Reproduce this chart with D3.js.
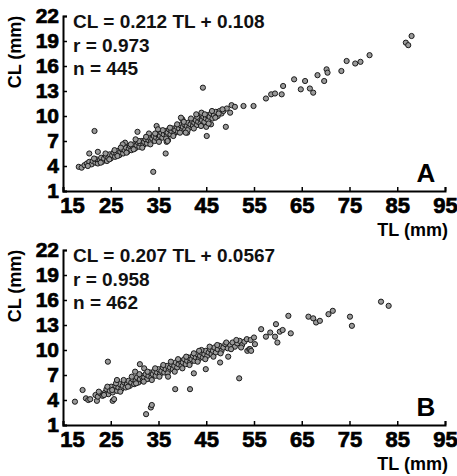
<!DOCTYPE html>
<html>
<head>
<meta charset="utf-8">
<script src="https://cdn.jsdelivr.net/npm/d3@7"></script>
<style>
  body { margin: 0; background: #fff; }
  text { font-family: "Liberation Sans", Arial, Helvetica, sans-serif; }
</style>
</head>
<body>
<svg width="457" height="476"></svg>
<script>
// TL, CL pairs (mm)
var pointsA = [
  [18.3,3.9],[18.9,3.8],[20.5,5.5],[21.6,8.2],[22.3,5.7],[28,6.8],[30.6,8.1],[33.9,3.3],[34.6,8.8],[36.5,5.5],[36.7,6.9],[45.1,7.6],
  [19.5,4.1],[20,4.3],[20.5,4.5],[21,4.2],[21.2,4.6],[21.8,4.4],[22,4.8],[22.3,4.3],[22.7,4.7],[23,5.0],[23.2,4.5],[23.6,4.9],
  [24,5.2],[24.2,4.6],[24.5,5.0],[24.8,5.4],[25,4.9],[25.3,5.3],[25.6,5.6],[25.9,5.1],[26.2,5.5],[26.5,5.8],[26.8,5.3],[27,5.7],
  [27.3,6.0],[27.6,5.5],[27.9,5.9],[28.2,6.2],[28.5,5.7],[28.8,6.1],[29,6.4],[29.3,5.9],[29.6,6.3],[29.9,6.6],[30.1,6.1],[30.4,6.5],
  [30.7,6.8],[31,6.3],[31.2,6.7],[31.5,7.0],[31.8,6.5],[32,6.9],[32.3,7.2],[32.6,6.7],[32.9,7.1],[33.1,7.4],[33.4,6.9],[33.7,7.3],
  [34,7.6],[34.2,7.0],[34.5,7.4],[34.8,7.8],[35,7.2],[35.3,7.6],[35.6,8.0],[35.8,7.4],[36.1,7.8],[36.4,8.2],[36.7,7.6],[36.9,8.0],
  [37.2,8.4],[37.5,7.8],[37.7,8.2],[38,8.5],[38.3,7.9],[38.5,8.3],[38.8,8.7],[39.1,8.1],[39.3,8.5],[39.6,8.9],[39.9,8.3],[40.1,8.7],
  [40.4,9.0],[40.6,8.4],[40.9,8.8],[41.2,9.2],[41.4,8.6],[41.7,9.0],[42,9.4],[42.2,8.8],[42.5,9.2],[42.8,9.5],[43,8.9],[43.3,9.3],
  [43.6,9.7],[43.8,9.1],[44.1,9.5],[44.4,9.9],[44.6,9.3],[44.9,9.7],[45.2,10.1],[45.4,9.5],[45.7,9.9],[46,10.3],[46.3,9.7],[46.6,10.1],
  [47,10.5],[47.4,10.0],[47.8,10.6],[48.2,10.3],[33,7.9],[40,9.6],[44,10.4],[41,8.0],[45,8.7],[46,9.0],[37,7.1],[27.5,6.6],
  [20.2,4.0],[21.5,4.9],[22.9,4.4],[23.9,5.5],[24.7,4.8],[25.8,5.9],[26.4,5.2],[27.1,6.2],[28.3,5.6],[29.2,6.6],[29.8,6.0],[30.9,7.0],
  [31.6,6.2],[32.4,7.5],[33.3,6.6],[34.3,7.9],[35.1,6.9],[35.9,8.3],[36.6,7.3],[37.4,8.6],[38.1,7.6],[38.9,9.0],[39.5,8.0],[40.3,9.3],
  [41.1,8.3],[41.8,9.7],[42.4,8.5],[43.1,9.9],[43.9,8.8],[44.7,10.2],[45.5,9.1],[46.2,10.6],[46.9,9.8],[47.6,10.3],[48.6,10.6],[49.3,10.9],
  [39.7,9.8],[42.9,10.2],[34.9,8.4],[30.2,7.2],[36.9,7.0],[40.7,8.0],
  [44.3,13.4],[48.4,10.8],[49.1,8.7],[50,10.4],[50.3,11.3],[51,11.1],[52.8,11.2],[54.9,11.2],[57.5,12.1],[58.6,12.6],[59.4,12.7],
  [60.8,12.6],[61.1,13.6],[63.4,14.4],[64.8,13.2],[65.7,14.2],[66.7,13.3],[67.4,12.8],[68.3,14.9],[69.7,14.2],[70.2,15.6],[70.4,15.2],
  [73.3,15.4],[74.4,16.6],[76.2,16.3],[77.3,16.5],[79.2,17.3],[86.8,18.8],[87.3,18.5],[88,19.6]
];
var pointsB = [
  [17.5,3.8],[19.1,5.2],[19.8,4.2],[20.3,4.0],[20.7,4.1],[22.1,3.9],[24.4,8.6],[25.4,3.9],[25.7,4.1],[31.1,8.3],[32,7.8],[32.4,2.3],
  [33.4,3.1],[33.6,3.4],[38.5,5.3],[41.6,5.3],[42.4,7.2],[44.9,7.7],[47.9,8.5],[49.6,9.2],[51.9,6.6],
  [21.8,4.6],[22.3,4.4],[22.8,4.8],[23.3,4.5],[23.8,4.9],[24.1,5.3],[24.5,4.7],[24.8,5.1],[25.1,5.6],[25.4,4.9],[25.7,5.3],[26,5.7],
  [26.3,5.1],[26.6,5.5],[26.9,5.9],[27.2,5.3],[27.5,5.7],[27.8,6.1],[28.1,5.5],[28.4,5.9],[28.7,6.3],[29,5.7],[29.3,6.1],[29.6,6.5],
  [29.9,5.9],[30.2,6.3],[30.5,6.7],[30.8,6.1],[31.1,6.5],[31.4,6.9],[31.7,6.3],[32,6.7],[32.3,7.1],[32.6,6.5],[32.9,6.9],[33.2,7.3],
  [33.5,6.7],[33.8,7.1],[34.1,7.5],[34.4,6.9],[34.7,7.3],[35,7.7],[35.3,7.1],[35.6,7.5],[35.9,7.9],[36.2,7.3],[36.5,7.7],[36.8,8.1],
  [37.1,7.5],[37.4,7.9],[37.7,8.3],[38,7.7],[38.3,8.1],[38.6,8.5],[38.9,7.9],[39.2,8.3],[39.5,8.7],[39.8,8.1],[40.1,8.5],[40.4,8.9],
  [40.7,8.3],[41,8.7],[41.3,9.1],[41.6,8.5],[41.9,8.9],[42.2,9.3],[42.5,8.7],[42.8,9.1],[43.1,9.5],[43.4,8.9],[43.7,9.3],[44,9.7],
  [44.3,9.1],[44.6,9.5],[44.9,9.9],[45.2,9.3],[45.5,9.7],[45.8,10.1],[46.1,9.5],[46.4,9.9],[46.7,10.3],[47,9.7],[47.4,10.1],[47.8,10.5],
  [48.2,9.9],[48.6,10.3],[49,10.7],[49.5,10.2],[50,10.6],[50.5,10.9],[51,10.4],[51.5,10.8],[52,11.1],[52.5,10.6],[53,11.0],[53.5,11.3],
  [22.5,5.0],[23.6,4.6],[24.3,5.6],[25.3,5.2],[26.1,6.0],[27.0,5.0],[27.7,6.4],[28.6,5.6],[29.4,6.8],[30.3,6.0],[31.0,7.1],[31.9,6.2],
  [32.7,7.4],[33.6,6.4],[34.3,7.8],[35.2,6.8],[36,8.2],[36.9,7.2],[37.6,8.6],[38.4,7.4],[39.1,8.9],[40,7.8],[40.8,9.2],[41.5,8.2],
  [42.4,9.6],[43.2,8.6],[44,10],[44.8,8.9],[45.7,10.4],[46.5,9.2],[47.3,10.6],[48,9.6],[49.2,10.9],[50.2,10.1],[51.3,11.2],[52.3,10.3],
  [30.1,7.4],[37,6.8],[43.5,9.9],[26.3,6.4],
  [53.6,9.9],[54,10.1],[54.2,10.1],[54.4,9.9],[54.3,11.2],[55,11.5],[55.2,10.7],[56.5,12.5],[57.5,11.6],[58.4,12.1],[59.4,11.6],
  [59.6,13.1],[59.9,10.9],[60.4,12.2],[61,12.4],[62.2,14.1],[62.7,12],[66.4,14],[67.4,13.8],[68,13.3],[68.8,13.5],[70.6,14.3],
  [71.5,14.7],[75.1,14],[75.5,12.9],[81.6,15.8],[83.2,15.3]
];
var xTicks = [15, 25, 35, 45, 55, 65, 75, 85, 95];
var yTicks = [1, 4, 7, 10, 13, 16, 19, 22];
var statsA = ["CL = 0.212 TL + 0.108", "r = 0.973", "n = 445"];
var statsB = ["CL = 0.207 TL + 0.0567", "r = 0.958", "n = 462"];

var svg = d3.select('svg');

var scaleX = d3.scaleLinear().domain([15, 95]).range([63, 445]);

function drawPanel(points, stats, letter, top) {
    var scaleY = d3.scaleLinear().domain([1, 22]).range([top + 175, top]);
    var g = svg.append('g');

    var xAxis = g.append('g')
        .attr('transform', 'translate(0,' + (top + 175) + ')')
        .call(d3.axisBottom(scaleX).tickValues(xTicks).tickSizeInner(-4).tickSizeOuter(-4).tickPadding(6));

    var yAxis = g.append('g')
        .attr('transform', 'translate(63,0)')
        .call(d3.axisLeft(scaleY).tickValues(yTicks).tickSizeInner(-4).tickSizeOuter(-4).tickPadding(4));

    [xAxis, yAxis].forEach(function (ax) {
        ax.select('.domain').attr('stroke', '#000').attr('stroke-width', 2);
        ax.selectAll('.tick line').attr('stroke', '#000').attr('stroke-width', 1.5);
        ax.selectAll('.tick text')
            .attr('fill', '#000')
            .attr('stroke', '#000')
            .attr('stroke-width', 0.7)
            .style('font-weight', 'bold');
    });
    xAxis.selectAll('.tick text').style('font-size', '22px');
    yAxis.selectAll('.tick text').style('font-size', '21px');
    // first TL label sits right of the corner
    xAxis.selectAll('.tick text').filter(function (d) { return d == 15; }).attr('dx', 9);

    g.selectAll('.pt')
        .data(points)
        .enter()
        .append('circle')
        .attr('class', 'pt')
        .attr('cx', function (d) { return scaleX(d[0]); })
        .attr('cy', function (d) { return scaleY(d[1]); })
        .attr('r', 2.6)
        .attr('fill', '#9a9a9a')
        .attr('stroke', '#1a1a1a')
        .attr('stroke-width', 1);

    g.selectAll('.stat')
        .data(stats)
        .enter()
        .append('text')
        .attr('class', 'stat')
        .attr('x', 73)
        .attr('y', function (d, i) { return top + 12 + i * 23.5; })
        .style('font-size', '19px')
        .style('font-weight', 'bold')
        .attr('fill', '#111')
        .text(function (d) { return d; });

    g.append('text')
        .text('CL (mm)')
        .attr('transform', 'translate(21,' + (top + 36) + ')rotate(-90)')
        .style('text-anchor', 'middle')
        .style('font-size', '18px')
        .style('font-weight', 'bold');

    g.append('text')
        .text('TL (mm)')
        .attr('x', 448)
        .attr('y', top + 220)
        .style('text-anchor', 'end')
        .style('font-size', '18px')
        .style('font-weight', 'bold');

    g.append('text')
        .text(letter)
        .attr('x', 426)
        .attr('y', top + 166)
        .style('text-anchor', 'middle')
        .style('font-size', '26px')
        .style('font-weight', 'bold');
}

drawPanel(pointsA, statsA, 'A', 16);
drawPanel(pointsB, statsB, 'B', 250);
</script>
</body>
</html>
